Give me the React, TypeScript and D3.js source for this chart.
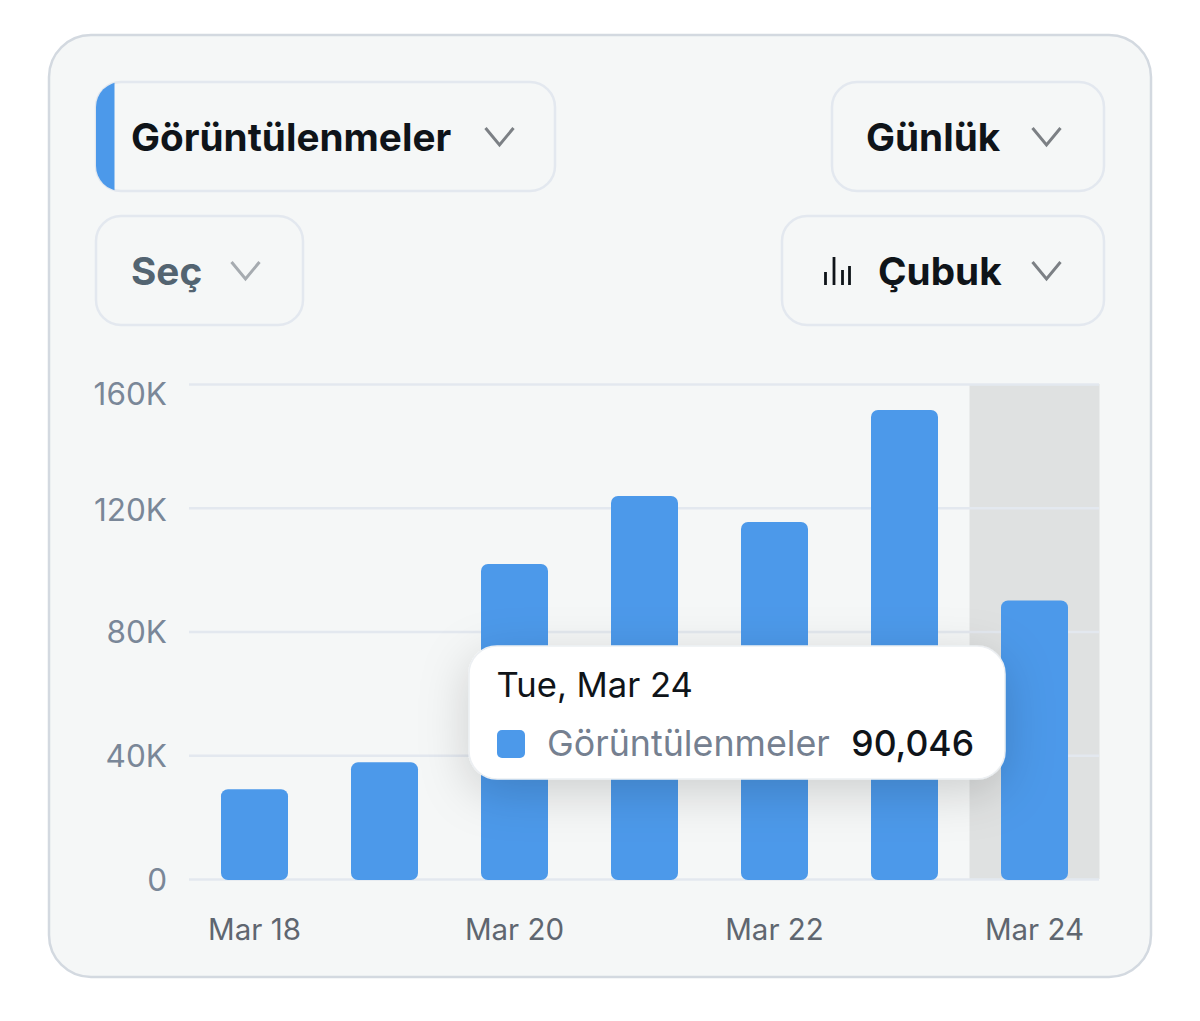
import * as d3 from 'd3';
import { useEffect, useRef } from 'react';

const days = ['Mar 18', 'Mar 19', 'Mar 20', 'Mar 21', 'Mar 22', 'Mar 23', 'Mar 24'];
const views = [29000, 37700, 101800, 123800, 115400, 151600, 90046];
const yTicks = [0, 40000, 80000, 120000, 160000];
const xTicks = ['Mar 18', 'Mar 20', 'Mar 22', 'Mar 24'];
const activeDay = 'Mar 24';
const tooltipDate = 'Tue, Mar 24';
const seriesName = 'Görüntülenmeler';

const FONT = 'Inter, "Noto Sans", sans-serif';
const BLUE = '#4c99ea';
const BORDER = '#e3e8ef';
const CARD = '#f5f7f7';

const x = d3.scaleBand<string>().domain(days).range([189.5, 1099.5]).paddingInner(0).paddingOuter(0);
const y = d3.scaleLinear().domain([0, 160000]).range([879, 384]);
const barWidth = 67;

const chevron = (cx: number, cy: number, color: string) => (
  <path
    d={`M${cx - 14},${cy - 9} L${cx},${cy + 8} L${cx + 14},${cy - 9}`}
    fill="none"
    stroke={color}
    strokeWidth={3}
  />
);

const Button = ({ bx, by, w, children }: { bx: number; by: number; w: number; children?: any }) => (
  <g>
    <rect x={bx} y={by} width={w} height={109} rx={25} fill={CARD} stroke={BORDER} strokeWidth={2.5} />
    {children}
  </g>
);

const Label = ({ lx, ly, color, children }: { lx: number; ly: number; color: string; children: string }) => (
  <text x={lx} y={ly} fontFamily={FONT} fontSize={38.7} fontWeight={700} fill={color}>
    {children}
  </text>
);

export default function App() {
  const gridRef = useRef<SVGGElement>(null);
  const xAxisRef = useRef<SVGGElement>(null);

  useEffect(() => {
    const yAxis = d3.axisLeft(y)
      .tickValues(yTicks)
      .tickSize(0)
      .tickPadding(22)
      .tickFormat(d => (+d === 0 ? '0' : `${+d / 1000}K`));
    const grid = d3.select(gridRef.current);
    grid.attr('transform', 'translate(189,0)').call(yAxis as any);
    grid.select('.domain').remove();
    grid.selectAll('.tick line')
      .attr('x2', 910)
      .attr('stroke', BORDER)
      .attr('stroke-width', 2.5);
    grid.selectAll('.tick text')
      .attr('font-family', FONT)
      .attr('font-size', 31.5)
      .attr('fill', '#7a8798')
      .attr('dy', (d: any) => (d === 160000 ? '0.66em' : d === 120000 ? '0.4em' : '0.36em'));

    const xAxis = d3.axisBottom(x).tickValues(xTicks).tickSize(0).tickPadding(0);
    const bottom = d3.select(xAxisRef.current);
    bottom.attr('transform', 'translate(0,919)').call(xAxis as any);
    bottom.select('.domain').remove();
    bottom.selectAll('.tick text')
      .attr('font-family', FONT)
      .attr('font-size', 29.5)
      .attr('fill', '#5f6670');
  }, []);

  return (
    <svg width={1200} height={1021} style={{ position: 'absolute', left: 0, top: 0, background: '#fff' }}>
      <defs>
        <clipPath id="accent">
          <rect x={96} y={82} width={18.5} height={109} />
        </clipPath>
        <filter id="tipShadow" x="-20%" y="-30%" width="140%" height="190%">
          <feDropShadow dx={0} dy={12} stdDeviation={24} floodColor="#000" floodOpacity={0.17} />
        </filter>
      </defs>

      <rect x={49} y={35} width={1102} height={942} rx={42} fill={CARD} stroke="#d3d9e0" strokeWidth={2.5} />

      <Button bx={96} by={82} w={459}>
        <rect x={96} y={82} width={459} height={109} rx={25} fill={BLUE} clipPath="url(#accent)" />
        <Label lx={131} ly={151} color="#0f1419">{seriesName}</Label>
        {chevron(499.5, 137, '#7c8085')}
      </Button>
      <Button bx={832} by={82} w={272}>
        <Label lx={866} ly={151} color="#0f1419">Günlük</Label>
        {chevron(1046.5, 137, '#7c8085')}
      </Button>
      <Button bx={96} by={216} w={207}>
        <Label lx={131} ly={285} color="#536471">Seç</Label>
        {chevron(245.5, 271, '#a6abb0')}
      </Button>
      <Button bx={782} by={216} w={322}>
        <path
          d="M825.5,272V285 M834,257V285 M842.5,270V285 M849.5,266V285"
          fill="none"
          stroke="#0f1419"
          strokeWidth={2.8}
        />
        <Label lx={878} ly={285} color="#0f1419">Çubuk</Label>
        {chevron(1046.5, 271, '#7c8085')}
      </Button>

      <rect
        x={x(activeDay)}
        y={y(160000)}
        width={x.bandwidth()}
        height={y(0) - y(160000)}
        fill="#dfe1e1"
      />
      <g ref={gridRef} />
      <g ref={xAxisRef} />

      {days.map((d, i) => (
        <rect
          key={d}
          x={(x(d) as number) + (x.bandwidth() - barWidth) / 2}
          y={y(views[i])}
          width={barWidth}
          height={y(0) - y(views[i]) + 1}
          rx={7}
          fill={BLUE}
        />
      ))}

      <rect x={469} y={646} width={536} height={133} rx={28} fill="#fff" stroke="#eceff2" strokeWidth={1.5} filter="url(#tipShadow)" />
      <text x={496.5} y={697} fontFamily={FONT} fontSize={34.6} fill="#0f1419">{tooltipDate}</text>
      <rect x={497} y={730} width={28} height={28} rx={5} fill={BLUE} />
      <text x={547} y={756} fontFamily={FONT} fontSize={35.8} fill="#758090">{seriesName}</text>
      <text x={974} y={756} textAnchor="end" fontFamily={FONT} fontSize={35.5} fontWeight={500} fill="#0f1419">
        {d3.format(',')(views[views.length - 1])}
      </text>
    </svg>
  );
}
